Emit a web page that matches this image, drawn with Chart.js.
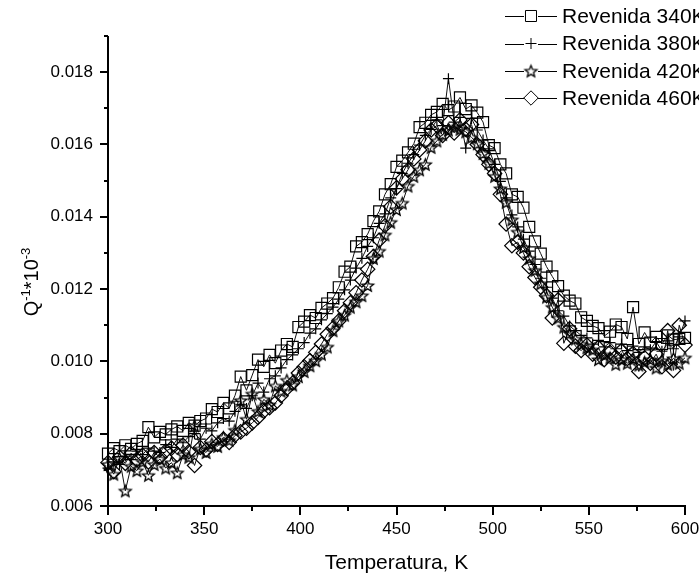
<!DOCTYPE html>
<html>
<head>
<meta charset="utf-8">
<script src="https://cdn.jsdelivr.net/npm/chart.js@4.4.1/dist/chart.umd.min.js"></script>
<style>
  html, body { margin: 0; padding: 0; background: #fff; }
  #wrap { width: 699px; height: 575px; }
</style>
</head>
<body>
<div id="wrap"><canvas id="qchart" width="699" height="575"></canvas></div>
<script>
// temperatura (K)
var temps = [300, 303, 306, 309, 312, 315, 318, 321, 324, 327, 330, 333, 336, 339, 342, 345, 348, 351, 354, 357,
  360, 363, 366, 369, 372, 375, 378, 381, 384, 387, 390, 393, 396, 399, 402, 405, 408, 411, 414, 417,
  420, 423, 426, 429, 432, 435, 438, 441, 444, 447, 450, 453, 456, 459, 462, 465, 468, 471, 474, 477,
  480, 483, 486, 489, 492, 495, 498, 501, 504, 507, 510, 513, 516, 519, 522, 525, 528, 531, 534, 537,
  540, 543, 546, 549, 552, 555, 558, 561, 564, 567, 570, 573, 576, 579, 582, 585, 588, 591, 594, 597, 600]

// Q^-1 * 10^-3 por revenido
var rev340 = [.00745, .00760, .00752, .00768, .00758, .00772, .00780, .00818, .00790, .00805,
  .00798, .00812, .00820, .00808, .00830, .00822, .00835, .00842, .00868, .00860,
  .00885, .00870, .00905, .00958, .00920, .00962, .01005, .00985, .01018, .00995,
  .01030, .01048, .01040, .01095, .01110, .01128, .01120, .01148, .01160, .01175,
  .01205, .01248, .01262, .01318, .01330, .01352, .01388, .01415, .01462, .01490,
  .01538, .01555, .01578, .01602, .01648, .01660, .01682, .01690, .01712, .01695,
  .01705, .01730, .01698, .01708, .01688, .01662, .01598, .01590, .01545, .01520,
  .01462, .01455, .01425, .01372, .01332, .01298, .01262, .01235, .01208, .01182,
  .01168, .01160, .01122, .01112, .01098, .01092, .01070, .01082, .01102, .01095,
  .01062, .01150, .01048, .01080, .01052, .01068, .01048, .01072, .01060, .01062, .01065]

var rev380 = [.00705, .00722, .00715, .00738, .00728, .00752, .00742, .00760, .00752, .00748,
  .00770, .00762, .00785, .00775, .00792, .00800, .00785, .00815, .00808, .00830,
  .00842, .00835, .00862, .00880, .00870, .00905, .00940, .00915, .00952, .00960,
  .00982, .01005, .01018, .01035, .01052, .01078, .01090, .01115, .01132, .01150,
  .01172, .01198, .01225, .01258, .01285, .01318, .01342, .01382, .01408, .01452,
  .01478, .01520, .01548, .01572, .01598, .01625, .01642, .01668, .01652, .01782,
  .01662, .01675, .01590, .01672, .01640, .01612, .01588, .01545, .01498, .01452,
  .01405, .01372, .01338, .01305, .01268, .01230, .01205, .01175, .01140, .01125,
  .01098, .01085, .01072, .01065, .01048, .01058, .01040, .01052, .01035, .01048,
  .01030, .01042, .01025, .01040, .01032, .01055, .01028, .01050, .01035, .01068, .01112]

var rev420 = [.00715, .00688, .00732, .00642, .00710, .00698, .00722, .00685, .00715, .00730,
  .00705, .00720, .00692, .00742, .00735, .00822, .00758, .00748, .00772, .00765,
  .00790, .00782, .00810, .00892, .00840, .00910, .00862, .00895, .00880, .00932,
  .00918, .00948, .00935, .00958, .00972, .00988, .01002, .01020, .01040, .01085,
  .01112, .01128, .01150, .01165, .01182, .01210, .01285, .01305, .01350, .01385,
  .01420, .01438, .01485, .01512, .01530, .01545, .01592, .01610, .01628, .01640,
  .01648, .01642, .01635, .01620, .01602, .01575, .01548, .01512, .01478, .01440,
  .01392, .01358, .01315, .01285, .01252, .01215, .01178, .01150, .01120, .01095,
  .01078, .01062, .01048, .01038, .01032, .01005, .01018, .01010, .00992, .01005,
  .00995, .01008, .00990, .00998, .01005, .00982, .01002, .00992, .01008, .00995, .01010]

var rev460 = [.00720, .00695, .00735, .00718, .00746, .00728, .00740, .00722, .00748, .00735,
  .00752, .00760, .00742, .00768, .00750, .00712, .00762, .00755, .00778, .00770,
  .00785, .00776, .00795, .00805, .00815, .00830, .00845, .00862, .00872, .00885,
  .00905, .00925, .00940, .00968, .00985, .01002, .01025, .01048, .01075, .01092,
  .01112, .01140, .01162, .01190, .01225, .01255, .01290, .01335, .01375, .01428,
  .01480, .01505, .01530, .01560, .01585, .01610, .01640, .01652, .01625, .01660,
  .01632, .01668, .01642, .01655, .01600, .01572, .01545, .01520, .01462, .01380,
  .01320, .01330, .01300, .01262, .01232, .01205, .01182, .01120, .01170, .01050,
  .01090, .01042, .01030, .01045, .01020, .01038, .01005, .01025, .01012, .01030,
  .01008, .01022, .00972, .01010, .00995, .01020, .00985, .01085, .00975, .01100, .01045]

var seriesnames = ['Revenida 340K', 'Revenida 380K', 'Revenida 420K', 'Revenida 460K']

var xticks = [300, 350, 400, 450, 500, 550, 600]
var xminor = [325, 375, 425, 475, 525, 575]
var yticks = [0.006, 0.008, 0.010, 0.012, 0.014, 0.016, 0.018]
var yminor = [0.007, 0.009, 0.011, 0.013, 0.015, 0.017, 0.019]

var fontname = '"Liberation Sans", Arial, sans-serif'

// open five point star used as a marker
function makeStar(r) {
    var c = document.createElement('canvas')
    c.width = c.height = Math.ceil(2 * r + 4)
    var g = c.getContext('2d')
    g.translate(c.width / 2, c.height / 2 + 0.6)
    g.beginPath()
    for (var k = 0; k < 10; k++) {
        var rr = k % 2 ? r * 0.44 : r
        var a = -Math.PI / 2 + k * Math.PI / 5
        g.lineTo(rr * Math.cos(a), rr * Math.sin(a))
    }
    g.closePath()
    g.lineWidth = 1.3
    g.strokeStyle = '#000'
    g.stroke()
    return c
}

var starimg = makeStar(6.2)

function points(values) {
    return temps.map( (t, i) => ({ x: t, y: values[i] }) )
}

function series(label, values, style, radius) {
    return {
        label: label,
        data: points(values),
        borderColor: '#111',
        borderWidth: 1,
        tension: 0,
        pointStyle: style,
        pointRadius: radius,
        pointBorderWidth: 1.2,
        pointBorderColor: '#000',
        pointBackgroundColor: 'rgba(0,0,0,0)',
        clip: false
    }
}

var datasets = [
    series(seriesnames[0], rev340, 'rect', 7.8),
    series(seriesnames[1], rev380, 'cross', 5.5),
    series(seriesnames[2], rev420, starimg, 6),
    series(seriesnames[3], rev460, 'rectRot', 7.2)
]

function line(ctx, x1, y1, x2, y2) {
    ctx.beginPath()
    ctx.moveTo(x1, y1)
    ctx.lineTo(x2, y2)
    ctx.stroke()
}

// axes, tick marks, axis titles and the legend box
const framePlugin = {
    id: 'frame',
    afterDraw(chart) {
        const ctx = chart.ctx
        const xs = chart.scales.x, ys = chart.scales.y
        const a = chart.chartArea
        const left = Math.round(a.left), bottom = Math.round(a.bottom)

        ctx.save()
        ctx.strokeStyle = '#000'
        ctx.lineWidth = 2
        ctx.beginPath()
        ctx.moveTo(left, ys.getPixelForValue(0.019))
        ctx.lineTo(left, bottom)
        ctx.lineTo(xs.getPixelForValue(600) + 1, bottom)
        ctx.stroke()

        xticks.forEach( v => { let p = Math.round(xs.getPixelForValue(v)); line(ctx, p, bottom, p, bottom + 9) })
        xminor.forEach( v => { let p = Math.round(xs.getPixelForValue(v)); line(ctx, p, bottom, p, bottom + 5) })
        yticks.forEach( v => { let p = Math.round(ys.getPixelForValue(v)); line(ctx, left - 8, p, left, p) })
        yminor.forEach( v => { let p = Math.round(ys.getPixelForValue(v)); line(ctx, left - 4, p, left, p) })

        // x title
        ctx.fillStyle = '#000'
        ctx.font = '21px ' + fontname
        ctx.textAlign = 'center'
        ctx.textBaseline = 'middle'
        ctx.fillText('Temperatura, K', (a.left + a.right) / 2, 563)

        // y title with superscripts
        const big = '20px ' + fontname, small = '13px ' + fontname
        const parts = [['Q', big, 0], ['-1', small, -8], ['*10', big, 0], ['-3', small, -8]]
        let total = 0
        parts.forEach( p => { ctx.font = p[1]; total += ctx.measureText(p[0]).width })
        ctx.translate(38, 282)
        ctx.rotate(-Math.PI / 2)
        ctx.textAlign = 'left'
        ctx.textBaseline = 'alphabetic'
        let cx = -total / 2
        parts.forEach( p => {
            ctx.font = p[1]
            ctx.fillText(p[0], cx, p[2])
            cx += ctx.measureText(p[0]).width
        })
        ctx.setTransform(1, 0, 0, 1, 0, 0)

        // legend
        const rowy = [16, 43.5, 71, 98]
        chart.data.datasets.forEach( (ds, i) => {
            let y = rowy[i]
            ctx.strokeStyle = '#000'
            ctx.lineWidth = 1
            line(ctx, 505, Math.round(y) + 0.5, 557, Math.round(y) + 0.5)
            ctx.fillStyle = '#fff'
            ctx.fillRect(524, y - 8, 14, 16)
            Chart.helpers.drawPoint(ctx, {
                pointStyle: ds.pointStyle,
                radius: ds.pointRadius,
                borderWidth: 1.2,
                rotation: 0
            }, 531, y)
            ctx.fillStyle = '#000'
            ctx.font = '21px ' + fontname
            ctx.textAlign = 'left'
            ctx.textBaseline = 'middle'
            ctx.fillText(ds.label, 562, y + 1)
        })
        ctx.restore()
    }
}

new Chart(document.getElementById('qchart'), {
    type: 'line',
    data: { datasets: datasets },
    options: {
        responsive: false,
        animation: false,
        devicePixelRatio: 1,
        layout: { padding: { top: 36, right: 14, left: 0, bottom: 0 } },
        scales: {
            x: {
                type: 'linear',
                min: 300,
                max: 600,
                grid: { display: false, drawTicks: false },
                border: { display: false },
                afterBuildTicks: s => { s.ticks = xticks.map( v => ({ value: v }) ) },
                afterFit: s => { s.height = 69; s.paddingLeft = 0; s.paddingRight = 0 },
                ticks: {
                    padding: 13,
                    maxRotation: 0,
                    autoSkip: false,
                    color: '#000',
                    font: { family: fontname, size: 17 },
                    callback: v => String(v)
                }
            },
            y: {
                type: 'linear',
                min: 0.006,
                max: 0.019,
                grid: { display: false, drawTicks: false },
                border: { display: false },
                afterBuildTicks: s => { s.ticks = yticks.map( v => ({ value: v }) ) },
                afterFit: s => { s.width = 108; s.paddingTop = 0; s.paddingBottom = 0 },
                ticks: {
                    padding: 15,
                    autoSkip: false,
                    color: '#000',
                    font: { family: fontname, size: 17 },
                    callback: v => v.toFixed(3)
                }
            }
        },
        plugins: {
            legend: { display: false },
            tooltip: { enabled: false }
        }
    },
    plugins: [framePlugin]
})
</script>
</body>
</html>
